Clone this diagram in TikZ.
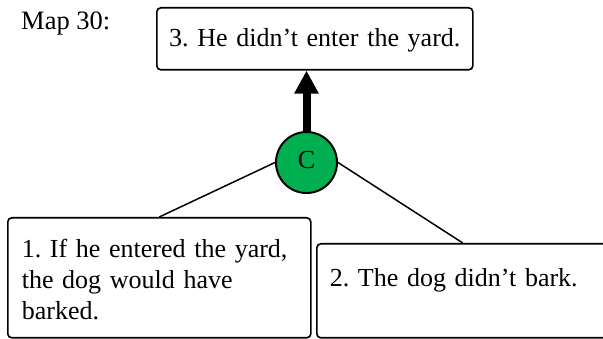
\documentclass[tikz,border=0pt]{standalone}
\usepackage{fontspec}
\setmainfont{Liberation Serif}
\usetikzlibrary{arrows.meta}
\definecolor{cgreen}{HTML}{00B050}
\tikzset{
  bigfont/.style={font=\fontsize{26}{31}\selectfont\frenchspacing},
  boxstyle/.style={draw=black, line width=1.6pt, rounded corners=4pt, inner ysep=0pt, anchor=north west, align=left, bigfont},
  linkstyle/.style={draw=black, line width=1.5pt},
}
\begin{document}
\begin{tikzpicture}[x=1pt, y=-1pt]
\useasboundingbox (0,0) rectangle (603,339);
\clip (0,0) rectangle (603,339);
\node[anchor=base west, inner sep=0pt, bigfont, font=\fontsize{26.5}{31}\selectfont] (maplabel) at (21,29.5) {Map 30:};
\node[boxstyle, align=center, inner xsep=0pt, text width=316pt, text height=39pt, text depth=23pt] (top) at (156,7) {3. He didn’t enter the yard.};
\node[boxstyle, inner xsep=14pt, text width=275pt, text height=40pt, text depth=80pt] (left) at (7,217) {1. If he entered the yard,\\the dog would have\\barked.};
\node[boxstyle, inner xsep=13pt, text width=266pt, text height=43pt, text depth=51pt] (right) at (316,243) {2. The dog didn’t bark.};
\node[circle, draw=black, line width=2pt, fill=cgreen, minimum size=61pt, inner sep=0pt, text height=11.6pt, text depth=0pt,
  bigfont] (c) at (306.5,162.5) {C};
\draw[line width=8pt, -{Triangle[width=23pt, length=23pt]}] (c.north) -- (c.north |- top.south);
\draw[linkstyle] (c.west) -- (left.north);
\draw[linkstyle] (c.east) -- (right.north);
\end{tikzpicture}
\end{document}
